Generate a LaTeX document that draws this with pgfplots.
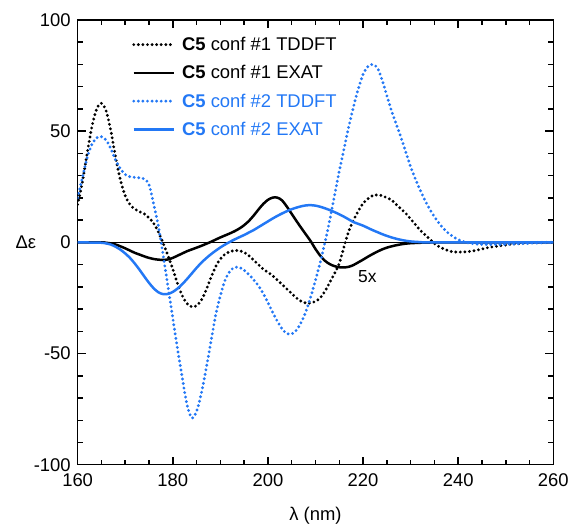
\documentclass[border=0pt]{standalone}
\usepackage{fontspec}
\setmainfont{Liberation Sans}
\usepackage{pgfplots}
\pgfplotsset{compat=1.18}
\definecolor{cfblue}{RGB}{35,120,245}

\begin{document}
\begin{tikzpicture}
\begin{axis}[
 width=478pt,height=447pt,scale only axis,
 xmin=160,xmax=260,ymin=-100,ymax=100,
 xtick={160,180,...,260},minor x tick num=3,
 ytick={-100,-50,0,50,100},minor y tick num=4,
 major tick length=8pt,minor tick length=5pt,
 xtick style={draw=black,line width=1.5pt},
 ytick style={draw=black,line width=1.5pt},
 every axis/.append style={line width=1.3pt},
 /pgf/number format/assume math mode=true,
 tick label style={font=\fontsize{18.5}{21}\selectfont},
 yticklabel style={xshift=-3pt},
 xticklabel style={yshift=-5pt},
 label style={font=\fontsize{18.5}{21}\selectfont},
 xlabel={λ (nm)},ylabel={Δε},
 xlabel style={at={(axis description cs:0.5,0)},anchor=base,yshift=-56pt},
 ylabel style={rotate=-90,at={(axis description cs:0,0.5)},anchor=center,xshift=-52pt},
 legend style={at={(rel axis cs:0.107,0.967)},anchor=north west,draw=none,fill=none,
   font=\fontsize{18.5}{21}\selectfont,
   nodes={inner sep=0pt},row sep=13.5pt,column sep=7pt},
 legend cell align=left,
 legend image code/.code={\draw[#1] (0pt,0pt) -- (40pt,0pt);},
]
\addplot[black,line width=1.2pt,forget plot] coordinates {(160,0) (260,0)};

% inward ticks on all four sides, lengths given in data units (5pt and 8pt)
\pgfplotsinvokeforeach{165,170,175,185,190,195,205,210,215,225,230,235,245,250,255}{
 \draw[black,line width=1.3pt] (axis cs:#1,-100) -- (axis cs:#1,-97.76);
 \draw[black,line width=1.3pt] (axis cs:#1,100) -- (axis cs:#1,97.76);}
\pgfplotsinvokeforeach{180,200,220,240}{
 \draw[black,line width=1.3pt] (axis cs:#1,-100) -- (axis cs:#1,-96.42);
 \draw[black,line width=1.3pt] (axis cs:#1,100) -- (axis cs:#1,96.42);}
\pgfplotsinvokeforeach{-90,-80,-70,-60,-40,-30,-20,-10,10,20,30,40,60,70,80,90}{
 \draw[black,line width=1.3pt] (axis cs:160,#1) -- (axis cs:161.05,#1);
 \draw[black,line width=1.3pt] (axis cs:260,#1) -- (axis cs:258.95,#1);}
\pgfplotsinvokeforeach{-50,0,50}{
 \draw[black,line width=1.3pt] (axis cs:160,#1) -- (axis cs:161.67,#1);
 \draw[black,line width=1.3pt] (axis cs:260,#1) -- (axis cs:258.33,#1);}

% conf #1 TDDFT
\addplot[black,line width=3.2pt,line cap=round,dash pattern=on 0pt off 4.6pt,smooth] coordinates {
(160,17) (161,27) (162,40) (163,52) (164,60) (165,62.5) (166,59) (167,50) (168,38) (169,28)
(170,21) (171,17) (172,15) (173,13.8) (174,12.8) (175,11) (176,8.5) (177,4.5) (178,-0.5) (179,-6)
(180,-12) (181,-18.5) (182,-24) (183,-27.5) (184,-29) (185,-28.5) (186,-26) (187,-21.5) (188,-16) (189,-11)
(190,-7.5) (191,-5.3) (192,-4.2) (193,-3.7) (194,-3.8) (195,-4.5) (196,-6) (197,-8) (198,-10) (199,-12)
(200,-13.5) (201,-15) (202,-17) (203,-19) (204,-21) (205,-23) (206,-25) (207,-26.5) (208,-27.3) (209,-27.3)
(210,-26.5) (211,-25) (212,-22) (213,-18) (214,-14) (215,-9.5) (216,-2) (217,5) (218,10) (219,14)
(220,17.5) (221,19.5) (222,21) (223,21.3) (224,21) (225,20) (226,19) (227,17) (228,15) (229,13)
(230,10.5) (231,8) (232,5.5) (233,3.5) (234,1.5) (235,-0.5) (236,-2) (237,-3) (238,-3.8) (239,-4.3)
(240,-4.4) (242,-4.2) (244,-3.5) (246,-2.5) (248,-1.8) (250,-1.2) (252,-0.6) (255,-0.2) (260,0)};
\addlegendentry{\textbf{C5} conf \#1 TDDFT}

% conf #1 EXAT
\addplot[black,line width=2.5pt,smooth] coordinates {
(160,0) (165,0) (166,-0.2) (167,-0.5) (168,-1) (169,-1.8) (170,-2.7) (171,-3.7) (172,-4.7) (173,-5.5)
(174,-6.3) (175,-7) (176,-7.5) (177,-7.8) (178,-7.9) (179,-7.7) (180,-7) (181,-6) (182,-5) (183,-4)
(184,-3.2) (185,-2.4) (186,-1.6) (187,-0.7) (188,0.2) (189,1.2) (190,2.2) (191,3.1) (192,4) (193,5)
(194,6.2) (195,7.7) (196,9.6) (197,12) (198,14.7) (199,17.2) (200,19.1) (201,20.1) (202,20.1) (203,18.8)
(204,16) (205,12.8) (206,9.6) (207,6.5) (208,3.5) (209,0.5) (210,-3) (211,-6) (212,-8.3) (213,-9.8)
(214,-10.7) (215,-11.2) (216,-11.3) (217,-11) (218,-10.2) (219,-9) (220,-7.8) (221,-6.5) (222,-5.3) (223,-4.2)
(224,-3.2) (225,-2.4) (226,-1.8) (227,-1.3) (228,-0.9) (229,-0.6) (230,-0.4) (232,-0.2) (235,-0.05) (240,0) (260,0)};
\addlegendentry{\textbf{C5} conf \#1 EXAT}

% conf #2 TDDFT
\addplot[cfblue,line width=3.2pt,line cap=round,dash pattern=on 0pt off 4.6pt,smooth] coordinates {
(160,20) (161,29) (162,38) (163,44) (164,47) (165,47.5) (166,46) (167,42) (168,37) (169,33)
(170,30.5) (171,29.5) (172,29.2) (173,29) (174,28.5) (175,26) (176,17) (177,7) (178,-6) (179,-20)
(180,-34) (181,-48) (182,-61) (183,-73) (184,-79) (185,-76) (186,-68) (187,-57) (188,-45) (189,-33)
(190,-24) (191,-17) (192,-13) (193,-11.3) (194,-11.3) (195,-12.5) (196,-14.5) (197,-16.8) (198,-19.5) (199,-23)
(200,-27) (201,-31.5) (202,-35.5) (203,-39) (204,-41) (205,-41.2) (206,-39.5) (207,-36) (208,-31) (209,-24.5)
(210,-17) (211,-9) (212,0) (213,10) (214,21) (215,32) (216,42) (217,52) (218,61) (219,69)
(220,75.5) (221,79) (222,80) (223,78.5) (224,73) (225,66) (226,59) (227,53) (228,47) (229,40.5)
(230,34) (231,28.5) (232,23.5) (233,19) (234,15) (235,11.5) (236,8.5) (237,6) (238,4) (239,2.5)
(240,1.2) (241,0.4) (242,-0.2) (244,-0.8) (246,-1) (250,-0.9) (254,-0.5) (260,0)};
\addlegendentry{\textcolor{cfblue}{\textbf{C5} conf \#2 TDDFT}}

% conf #2 EXAT
\addplot[cfblue,line width=2.5pt,smooth] coordinates {
(160,0) (163,-0.1) (165,-0.2) (166,-0.5) (167,-1) (168,-2) (169,-3.3) (170,-5) (171,-7) (172,-9.5)
(173,-12.3) (174,-15.3) (175,-18.2) (176,-20.7) (177,-22.5) (178,-23.3) (179,-23.2) (180,-22.3) (181,-20.8) (182,-18.8)
(183,-16.5) (184,-14) (185,-11.5) (186,-9.2) (187,-7.2) (188,-5.4) (189,-3.8) (190,-2.3) (191,-1) (192,0.2)
(193,1.3) (194,2.3) (195,3.3) (196,4.4) (197,5.5) (198,6.8) (199,8.1) (200,9.4) (201,10.7) (202,11.9)
(203,13) (204,14) (205,14.9) (206,15.6) (207,16.2) (208,16.6) (209,16.7) (210,16.5) (211,16) (212,15.3)
(213,14.5) (214,13.6) (215,12.6) (216,11.5) (217,10.3) (218,9.1) (219,8.3) (220,7.5) (221,6.5) (222,5.5)
(223,4.6) (224,3.7) (225,2.9) (226,2.2) (227,1.6) (228,1.1) (229,0.7) (230,0.4) (232,0.1) (235,0) (260,0)};
\addlegendentry{\textcolor{cfblue}{\textbf{C5} conf \#2 EXAT}}

\node[font=\fontsize{17.5}{20}\selectfont] at (axis cs:220.9,-15.2) {5x};
\end{axis}
\path (current axis.south west) +(-78pt,-60pt) (current axis.north east) +(16pt,20pt);
\end{tikzpicture}
\end{document}
